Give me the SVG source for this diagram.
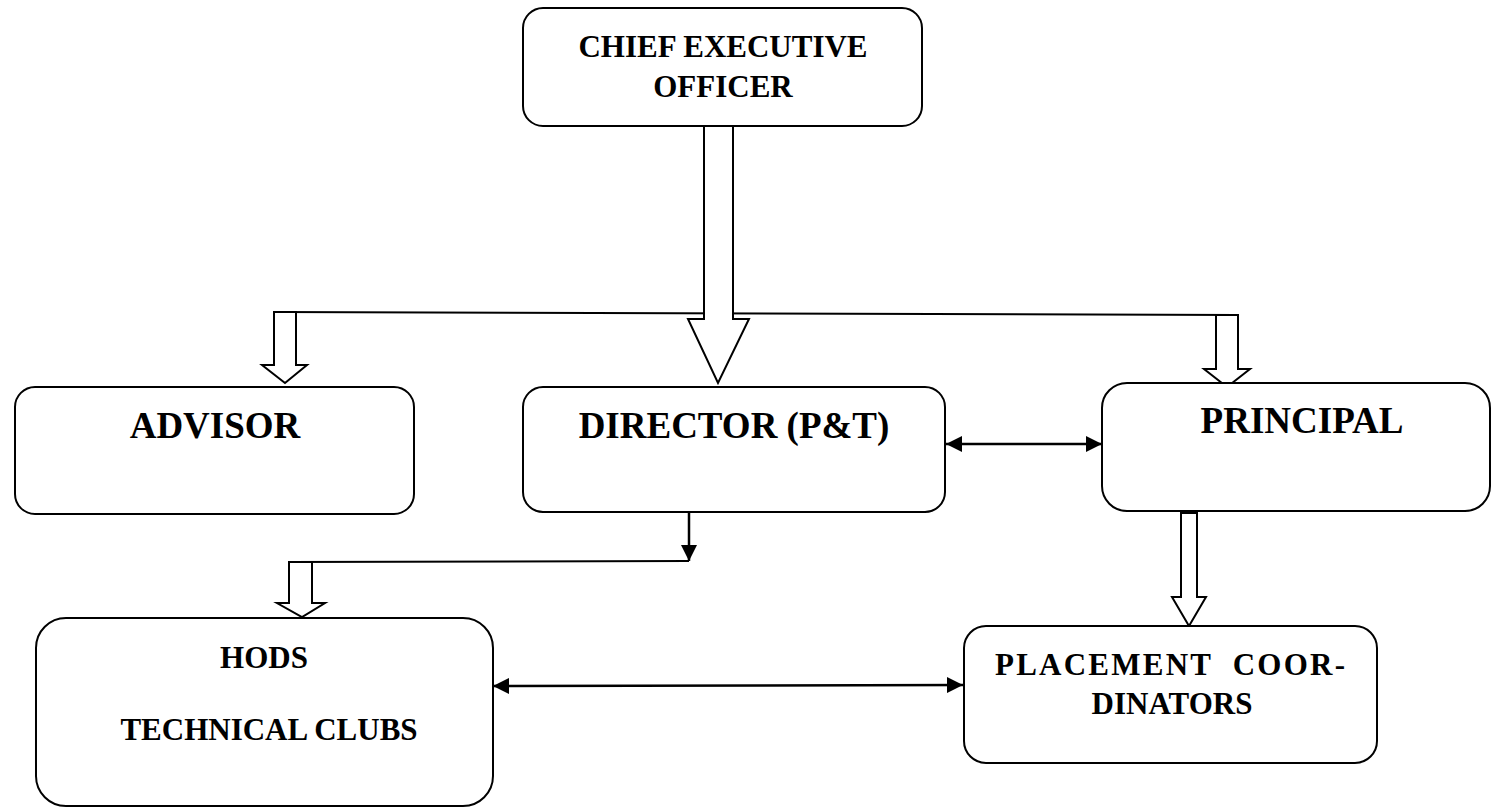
<svg xmlns="http://www.w3.org/2000/svg" width="1492" height="809" viewBox="0 0 1492 809">
<style>
.box{fill:#fff;stroke:#000;stroke-width:2}
.blk{fill:#fff;stroke:#000;stroke-width:2;stroke-linejoin:miter}
.ln{fill:none;stroke:#000;stroke-width:2}
.ln3{fill:none;stroke:#000;stroke-width:2.5}
.t{font-family:"Liberation Serif","Times New Roman",serif;font-weight:bold;fill:#000;text-anchor:middle}
</style>
<defs>
<marker id="ah" viewBox="0 0 16 16" refX="16" refY="8" markerWidth="16" markerHeight="16" markerUnits="userSpaceOnUse" orient="auto-start-reverse">
<path d="M0,0 L16,8 L0,16 z" fill="#000"/>
</marker>
</defs>
<rect width="1492" height="809" fill="#fff"/>
<g id="connectors">
<line class="ln" x1="274" y1="312" x2="1238" y2="315"/>
<polygon class="blk" points="704,126 704,319 688,319 718,383 749,319 733,319 733,126"/>
<polygon class="blk" points="274,312 274,365 262,365 285,383 307,365 296,365 296,312"/>
<polygon class="blk" points="1216,315 1216,369 1204,369 1227,387 1250,369 1238,369 1238,315"/>
<line class="ln3" x1="689" y1="513" x2="689" y2="561" marker-end="url(#ah)"/>
<line class="ln" x1="689" y1="561" x2="289" y2="562"/>
<polygon class="blk" points="289,562 289,603 277,603 302,617 325,603 312,603 312,562"/>
<polygon class="blk" points="1181,513 1181,597 1172,597 1189,626 1206,597 1197,597 1197,513"/>
<line class="ln3" x1="946" y1="444" x2="1102" y2="444" marker-start="url(#ah)" marker-end="url(#ah)"/>
<line class="ln3" x1="493" y1="686" x2="963" y2="685" marker-start="url(#ah)" marker-end="url(#ah)"/>
</g>
<g id="ceo">
<rect class="box" x="523" y="8" width="399" height="118" rx="20"/>
<text class="t" x="723" y="57" font-size="31">CHIEF EXECUTIVE</text>
<text class="t" x="723" y="97" font-size="31">OFFICER</text>
</g>
<g id="advisor">
<rect class="box" x="15" y="387" width="399" height="127" rx="20"/>
<text class="t" x="215" y="438" font-size="37">ADVISOR</text>
</g>
<g id="director">
<rect class="box" x="523" y="387" width="422" height="125" rx="20"/>
<text class="t" x="734" y="438" font-size="37">DIRECTOR (P&amp;T)</text>
</g>
<g id="principal">
<rect class="box" x="1102" y="383" width="388" height="128" rx="25"/>
<text class="t" x="1302" y="433" font-size="37">PRINCIPAL</text>
</g>
<g id="hods">
<rect class="box" x="36" y="618" width="457" height="188" rx="30"/>
<text class="t" x="264" y="668" font-size="31">HODS</text>
<text class="t" x="269" y="740" font-size="31">TECHNICAL CLUBS</text>
</g>
<g id="placement">
<rect class="box" x="964" y="626" width="413" height="137" rx="22"/>
<text class="t" x="1170" y="675" font-size="31" textLength="350" lengthAdjust="spacing" xml:space="preserve">PLACEMENT  COOR-</text>
<text class="t" x="1172" y="714" font-size="31">DINATORS</text>
</g>
</svg>
